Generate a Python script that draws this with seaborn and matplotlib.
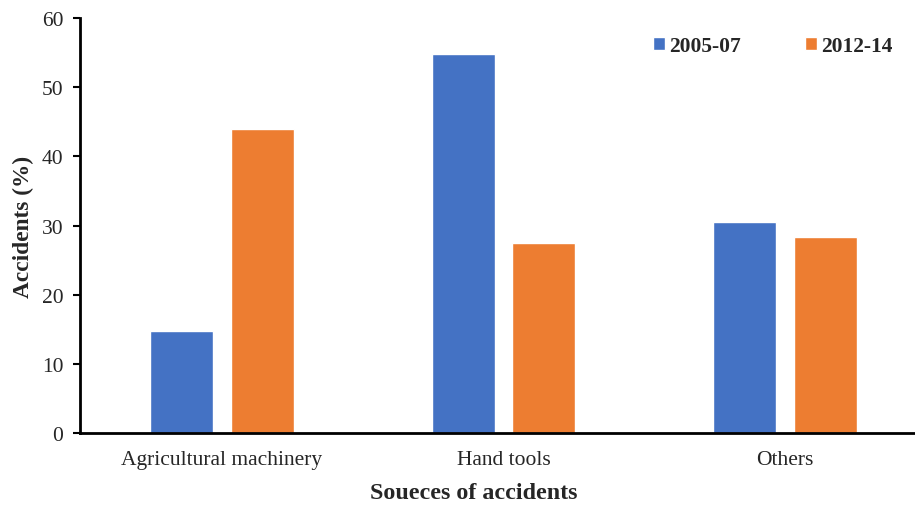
import matplotlib
matplotlib.use("Agg")
import matplotlib.pyplot as plt
import seaborn as sns
import pandas as pd

# Share of accidents by source, two survey periods
sources = ["Agricultural machinery", "Hand tools", "Others"]
period_a = [14.7, 54.8, 30.5]   # 2005-07
period_b = [44.0, 27.5, 28.4]   # 2012-14
periods = ["2005-07", "2012-14"]
yticks = [0, 10, 20, 30, 40, 50, 60]

df = pd.DataFrame({
    "Source": sources * 2,
    "Period": [periods[0]] * 3 + [periods[1]] * 3,
    "Accidents": period_a + period_b,
})

sns.set_theme(style="white")
plt.rcParams["font.family"] = ["Liberation Serif", "DejaVu Serif"]

fig = plt.figure(figsize=(9.15, 5.06), dpi=100)
ax = fig.add_axes([0.0874, 0.142, 0.923, 0.8205])

sns.barplot(data=df, x="Source", y="Accidents", hue="Period",
            palette=["#4472C4", "#ED7D31"], width=0.572, gap=0.217,
            saturation=1, ax=ax, legend=True)

ax.set_ylim(0, 60)
ax.set_yticks(yticks)
ax.set_xlim(-0.5045, 2.4955)
ax.tick_params(axis="y", labelsize=15.5, length=5, width=1.5, direction="out",
               left=True, color="black", pad=7)
ax.tick_params(axis="x", labelsize=15.5, length=0, pad=12)
for lab in ax.get_yticklabels() + ax.get_xticklabels():
    lab.set_color("#262626")

for side in ["top", "right"]:
    ax.spines[side].set_visible(False)
for side in ["left", "bottom"]:
    ax.spines[side].set_color("black")
    ax.spines[side].set_linewidth(2)

ax.set_ylabel("Accidents (%)", fontsize=16.8, fontweight="bold")
ax.set_xlabel("Soueces of accidents", fontsize=17.3, fontweight="bold")
ax.yaxis.set_label_coords(-0.054, 0.5)
ax.xaxis.set_label_coords(0.466, -0.118)

ax.get_legend().remove()
handles, labels = ax.get_legend_handles_labels()
fig.legend(handles, labels, loc="center left",
           bbox_to_anchor=(0.7137, 0.907), ncol=2, frameon=False,
           borderpad=0, borderaxespad=0, handlelength=0.55, handleheight=0.55,
           handletextpad=0.19, columnspacing=3.0,
           prop={"size": 15.5, "weight": "bold"})

fig.savefig("out.png", dpi=100)
